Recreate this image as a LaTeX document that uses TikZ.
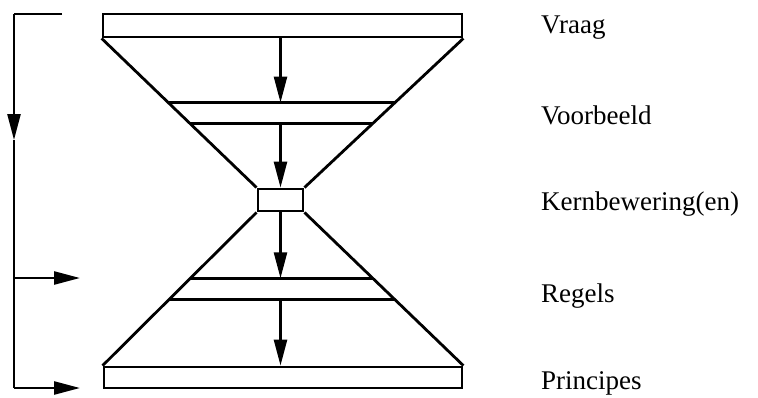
\documentclass[tikz,border=0pt]{standalone}
\usepackage{fontspec}
\setmainfont{Liberation Serif}
\usetikzlibrary{arrows.meta, positioning, calc}
\tikzset{
    slab/.style={draw, rectangle, line width=2.8pt, inner sep=0pt},
    edge/.style={line width=2.8pt},
    flowarrow/.style={line width=2.5pt, -{Triangle[length=26pt, width=13pt]}},
    levellabel/.style={anchor=base west, inner sep=0pt, font=\fontsize{27}{31}\selectfont},
}

\begin{document}
\begin{tikzpicture}[x=1pt, y=-1pt]
    \useasboundingbox (0,0) rectangle (758,397);

    % the hourglass: slabs and the waist
    \node[slab, minimum width=359pt, minimum height=23pt] (vraag) at (282.5,25.5) {};
    \node[slab, minimum width=45pt, minimum height=22pt] (kern) at (280.5,200) {};
    \node[slab, minimum width=358pt, minimum height=21pt] (principes) at (283,377.5) {};

    \draw[edge] (vraag.south west) -- (kern.north west);
    \draw[edge] (vraag.south east) -- (kern.north east);
    \draw[edge] (kern.south west) -- (principes.north west);
    \draw[edge] (kern.south east) -- (principes.north east);

    % bands cut across the two cones
    \coordinate (vb1l) at ($(vraag.south west)!0.43!(kern.north west)$);
    \coordinate (vb1r) at ($(vraag.south east)!0.43!(kern.north east)$);
    \coordinate (vb2l) at ($(vraag.south west)!0.57!(kern.north west)$);
    \coordinate (vb2r) at ($(vraag.south east)!0.57!(kern.north east)$);
    \coordinate (rg1l) at ($(kern.south west)!0.43!(principes.north west)$);
    \coordinate (rg1r) at ($(kern.south east)!0.43!(principes.north east)$);
    \coordinate (rg2l) at ($(kern.south west)!0.57!(principes.north west)$);
    \coordinate (rg2r) at ($(kern.south east)!0.57!(principes.north east)$);
    \draw[edge] (vb1l) -- (vb1r);
    \draw[edge] (vb2l) -- (vb2r);
    \draw[edge] (rg1l) -- (rg1r);
    \draw[edge] (rg2l) -- (rg2r);

    \coordinate (voorbeeld-top) at ($(vb1l)!0.5!(vb1r)$);
    \coordinate (voorbeeld-bot) at ($(vb2l)!0.5!(vb2r)$);
    \coordinate (regels-top) at ($(rg1l)!0.5!(rg1r)$);
    \coordinate (regels-bot) at ($(rg2l)!0.5!(rg2r)$);

    % downward flow
    \draw[flowarrow] (vraag.south -| kern) -- (voorbeeld-top -| kern);
    \draw[flowarrow] (voorbeeld-bot -| kern) -- (kern.north);
    \draw[flowarrow] (kern.south) -- (regels-top -| kern);
    \draw[flowarrow] (regels-bot -| kern) -- (principes.north -| kern);

    % bracket on the left
    \coordinate (br-top) at (62,14);
    \coordinate (br-corner) at (14,14);
    \coordinate (br-mid) at (14,140);
    \coordinate (br-split) at (14,278);
    \coordinate (br-foot) at (14,388);
    \coordinate (br-regels) at (80,278);
    \coordinate (br-principes) at (80,388);
    \draw[edge] (br-top) -- (br-corner);
    \draw[flowarrow] (br-corner) -- (br-mid);
    \draw[edge] (br-mid) -- (br-foot);
    \draw[flowarrow] (br-split) -- (br-regels);
    \draw[flowarrow] (br-foot) -- (br-principes);

    % level labels
    \node[levellabel] (lvraag) at (541,33) {Vraag};
    \node[levellabel] (lvoorbeeld) at (541,124) {Voorbeeld};
    \node[levellabel] (lkern) at (541,210) {Kernbewering(en)};
    \node[levellabel] (lregels) at (541,302) {Regels};
    \node[levellabel] (lprincipes) at (541,389) {Principes};
\end{tikzpicture}
\end{document}
